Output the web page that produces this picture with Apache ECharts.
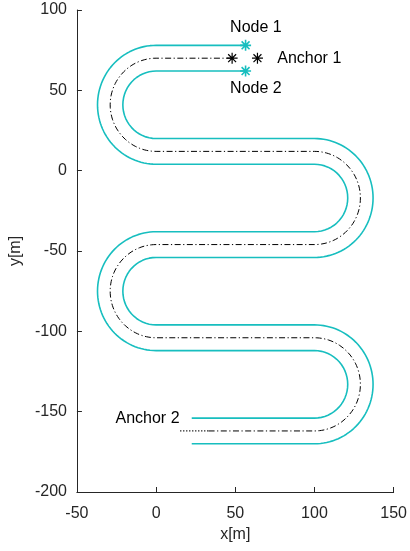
<!DOCTYPE html>
<html>
<head>
<meta charset="utf-8">
<style>
  html, body { margin: 0; padding: 0; background: #fff; }
  #chart { width: 410px; height: 551px; }
</style>
<script src="https://cdn.jsdelivr.net/npm/echarts@6/dist/echarts.min.js"></script>
</head>
<body>
<div id="chart"></div>
<script>
// Serpentine track: straight lanes joined by half-circle turns.
const laneY = [70, 12, -46, -104, -162];      // centre-line height of each straight lane
const leftTurnX = 0;                          // x of the left turn centres
const rightTurnX = 100;                       // x of the right turn centres
const turnRadius = 29;                        // centre-line radius of every turn
const halfWidth = 8;                          // distance from centre line to each edge
const centerStartX = 48;                      // centre line begins at the first anchor
const edgeStartX = 56.5;                      // edges begin at the nodes
const edgeEndX = 22.5;                        // edges stop here on the last lane
const centerEndX = 33;                        // dash-dot centre line stops here
const dottedEndX = 15;                        // dotted extension reaches here

const anchorPts = [[48, 70], [64, 70]];
const nodePts = [[56.5, 78], [56.5, 62]];

const xTicks = [-50, 0, 50, 100, 150];
const yTicks = [-200, -150, -100, -50, 0, 50, 100];

const annotations = [
  { name: 'Node 1', value: [63, 89], align: 'center' },
  { name: 'Node 2', value: [63, 51], align: 'center' },
  { name: 'Anchor 1', value: [76.5, 70], align: 'left' },
  { name: 'Anchor 2', value: [14.8, -154.6], align: 'right' }
];

// Build a polyline along the track, shifted sideways by `offset`.
function trackLine(offset, xStart, xEnd) {
  const pts = [];
  const side = i => (i % 2 === 0 ? 1 : -1);
  pts.push([xStart, laneY[0] + offset * side(0)]);
  for (let i = 0; i < laneY.length - 1; i++) {
    const yc = (laneY[i] + laneY[i + 1]) / 2;
    const isLeft = i % 2 === 0;
    const cx = isLeft ? leftTurnX : rightTurnX;
    const R = isLeft ? turnRadius + offset : turnRadius - offset;
    const steps = 60;
    for (let k = 0; k <= steps; k++) {
      const t = k / steps;
      const ang = isLeft ? Math.PI / 2 + Math.PI * t : Math.PI / 2 - Math.PI * t;
      pts.push([cx + R * Math.cos(ang), yc + R * Math.sin(ang)]);
    }
  }
  const last = laneY.length - 1;
  pts.push([xEnd, laneY[last] + offset * side(last)]);
  return pts;
}

const edgeA = trackLine(halfWidth, edgeStartX, edgeEndX);
const edgeB = trackLine(-halfWidth, edgeStartX, edgeEndX);
const centre = trackLine(0, centerStartX, centerEndX);
const centreTail = [[centerEndX, laneY[laneY.length - 1]], [dottedEndX, laneY[laneY.length - 1]]];

const cyan = '#17BEBF';
const axisColor = '#262626';
const font = '"Liberation Sans", Arial, Helvetica, sans-serif';
const asterisk = 'path://M0,-5L0,5M-5,0L5,0M-3.6,-3.6L3.6,3.6M-3.6,3.6L3.6,-3.6';

const chart = echarts.init(document.getElementById('chart'), null, { renderer: 'canvas' });

chart.setOption({
  animation: false,
  backgroundColor: '#fff',
  textStyle: { fontFamily: font },
  grid: { left: 73, right: 14, top: 10, bottom: 59, containLabel: false },
  xAxis: {
    type: 'value', min: xTicks[0], max: xTicks[xTicks.length - 1], interval: 50,
    name: 'x[m]', nameLocation: 'middle', nameGap: 33,
    nameTextStyle: { fontSize: 16, color: axisColor, fontFamily: font },
    axisLine: { show: true, onZero: false, lineStyle: { color: axisColor, width: 1 } },
    axisTick: { show: true, inside: true, length: 5, lineStyle: { color: axisColor } },
    axisLabel: { fontSize: 16, color: axisColor, margin: 14, fontFamily: font },
    splitLine: { show: false }
  },
  yAxis: {
    type: 'value', min: yTicks[0], max: yTicks[yTicks.length - 1], interval: 50,
    name: 'y[m]', nameLocation: 'middle', nameGap: 48,
    nameTextStyle: { fontSize: 16, color: axisColor, fontFamily: font },
    axisLine: { show: true, onZero: false, lineStyle: { color: axisColor, width: 1 } },
    axisTick: { show: true, inside: true, length: 5, lineStyle: { color: axisColor } },
    axisLabel: { fontSize: 16, color: axisColor, margin: 10, fontFamily: font },
    splitLine: { show: false }
  },
  series: [
    {
      type: 'line', data: edgeA, showSymbol: false, symbol: 'none',
      lineStyle: { color: cyan, width: 1.6 }, silent: true
    },
    {
      type: 'line', data: edgeB, showSymbol: false, symbol: 'none',
      lineStyle: { color: cyan, width: 1.6 }, silent: true
    },
    {
      type: 'line', data: centre, showSymbol: false, symbol: 'none',
      lineStyle: { color: '#000', width: 1, type: [6, 2.5, 1.2, 2.5] }, silent: true
    },
    {
      type: 'line', data: centreTail, showSymbol: false, symbol: 'none',
      lineStyle: { color: '#000', width: 1.2, type: [1.2, 1.8] }, silent: true
    },
    {
      type: 'scatter', data: anchorPts, symbol: asterisk, symbolSize: 11,
      itemStyle: { color: 'none', borderColor: '#000', borderWidth: 1.2, opacity: 1 }, silent: true
    },
    {
      type: 'scatter', data: nodePts, symbol: asterisk, symbolSize: 11,
      itemStyle: { color: 'none', borderColor: cyan, borderWidth: 1.6, opacity: 1 }, silent: true
    },
    {
      type: 'scatter', symbolSize: 0, silent: true,
      itemStyle: { opacity: 1 },
      data: annotations.map(a => ({
        name: a.name, value: a.value,
        label: {
          show: true, position: 'inside', formatter: a.name, align: a.align,
          verticalAlign: 'middle', fontSize: 16, color: '#000', fontFamily: font
        }
      }))
    }
  ]
});
</script>
</body>
</html>
